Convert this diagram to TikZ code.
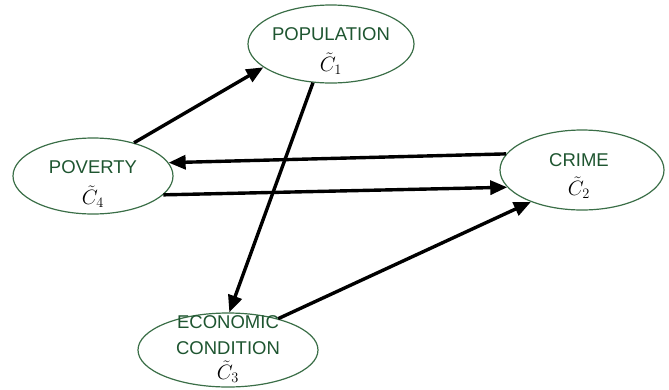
\documentclass[tikz,border=0pt]{standalone}
\usepackage{fontspec}
\setmainfont{Liberation Sans}
\usetikzlibrary{arrows.meta,shapes.geometric}
\definecolor{ringgreen}{HTML}{3A6E47}
\definecolor{textgreen}{HTML}{1E5530}
\newcommand{\factorsym}[1]{\textcolor{black}{\fontsize{21}{24}\selectfont$\tilde{C}_{#1}$}}
\begin{document}
\begin{tikzpicture}[x=1pt, y=-1pt,
  factor/.style={ellipse, draw=ringgreen, line width=1.2pt, inner sep=0pt},
  factortext/.style={text=textgreen, align=center, font=\fontsize{18.5}{25}\selectfont},
  link/.style={line width=3.4pt, -{Triangle[length=17pt, width=14pt]}}]
  \useasboundingbox (0,0) rectangle (669,389);
  % the four factors
  \node[factor, minimum width=166pt, minimum height=78pt] (pop) at (331,44) {};
  \node[factor, minimum width=160pt, minimum height=76pt] (pov) at (93,176) {};
  \node[factor, minimum width=164pt, minimum height=80pt] (cri) at (582,170) {};
  \node[factor, minimum width=180pt, minimum height=74pt] (eco) at (228,350) {};
  \node[factortext] (popt) at (331,51) {POPULATION\\[6pt]\factorsym{1}};
  \node[factortext] (povt) at (93,184) {POVERTY\\[6pt]\factorsym{4}};
  \node[factortext] (crit) at (579,176) {CRIME\\[4pt]\factorsym{2}};
  \node[factortext] (ecot) at (228,349) {ECONOMIC\\[1pt]CONDITION\\[0pt]\factorsym{3}};
  % relations
  \draw[link] (pov.39) -- (pop.199);
  \draw[link] (pop.245) -- (eco.88);
  \draw[link] (cri.168) -- (pov.10);
  \draw[link] (pov.345) -- (cri.193);
  \draw[link] (eco.32) -- (cri.212);
\end{tikzpicture}
\end{document}
